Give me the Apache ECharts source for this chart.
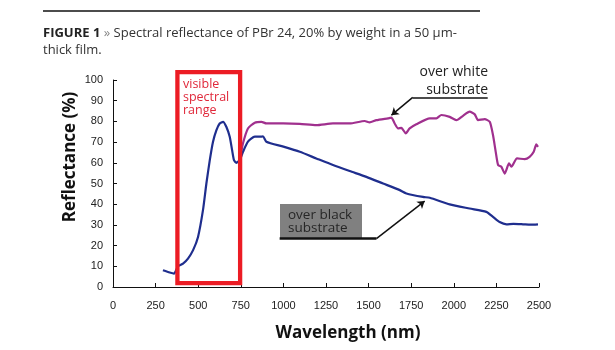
<!DOCTYPE html>
<html>
<head>
<meta charset="utf-8">
<script src="https://cdn.jsdelivr.net/npm/echarts@6/dist/echarts.min.js"></script>
<style>
  html, body { margin: 0; padding: 0; background: #fff; }
  #chart { width: 615px; height: 350px; }
</style>
</head>
<body>
<div id="chart"></div>
<script>
// over black substrate (blue)
const blackX = [293, 333, 358, 382, 411, 440, 470, 499, 528, 548, 568, 587, 607, 626, 646, 665, 685, 699, 710, 724, 744, 763, 792, 832, 871, 880, 900, 1000, 1096, 1193, 1291, 1389, 1487, 1585, 1683, 1722, 1819, 1859, 1976, 2093, 2191, 2230, 2269, 2309, 2350, 2406, 2450, 2494];
const blackY = [8.1, 7.0, 6.5, 10, 11.3, 13.7, 17.8, 24.2, 37.1, 50, 61.3, 70.2, 75.8, 79, 79.8, 77.4, 72.6, 66.1, 61.3, 60, 61.3, 65.3, 70.2, 72.6, 72.6, 72.8, 70.2, 67.8, 65.3, 62.1, 58.9, 56, 53.2, 50, 46.8, 45.2, 43.5, 43.1, 39.9, 37.9, 36.3, 33.9, 31.4, 30.3, 30.5, 30.3, 30.1, 30.3];

// over white substrate (purple)
const whiteX = [744, 763, 792, 832, 871, 900, 998, 1096, 1193, 1291, 1389, 1477, 1506, 1546, 1614, 1634, 1653, 1673, 1692, 1718, 1741, 1780, 1859, 1898, 1927, 1976, 2015, 2054, 2093, 2123, 2142, 2181, 2211, 2230, 2246, 2260, 2279, 2299, 2324, 2338, 2371, 2416, 2445, 2469, 2484, 2494];
const whiteY = [61.3, 69.4, 76.6, 79.4, 79.8, 79, 79, 78.8, 78.2, 79, 79, 80.2, 79.5, 80.6, 81.5, 81.8, 79, 76.6, 76.9, 74.2, 76.6, 78.6, 81.5, 81.5, 83.1, 82.2, 80.6, 82.7, 84.7, 83.4, 80.6, 81.1, 79.8, 73.4, 65.3, 58.9, 58.1, 54.8, 59.7, 58.1, 62.1, 61.8, 62.9, 65.3, 68.9, 67.7];

const xTicks = { min: 0, max: 2500, interval: 250 };
const yTicks = { min: 0, max: 100, interval: 10 };

// visible spectral range box (nm, %)
const visibleRange = [378, 746];
const visibleBoxY = [1.9, 103.8];

const chart = echarts.init(document.getElementById("chart"), null, { renderer: "canvas" });

const pairs = (xs, ys) => xs.map((x, i) => [x, ys[i]]);

const axisCommon = {
  axisLine: { show: true, lineStyle: { color: "#111", width: 1 } },
  axisTick: { show: true, inside: true, length: 4, lineStyle: { color: "#111" } },
  splitLine: { show: false },
};

chart.setOption({
  animation: false,
  title: {
    left: 38,
    top: 20,
    text: "{b|FIGURE 1} {g|»} Spectral reflectance of PBr 24, 20% by weight in a 50 μm-\nthick film.",
    textStyle: {
      fontFamily: "Open Sans",
      fontSize: 13,
      fontWeight: 400,
      color: "#333",
      lineHeight: 17,
      rich: {
        b: { fontFamily: "Open Sans", fontSize: 13, fontWeight: 700, color: "#222", lineHeight: 17 },
        g: { fontFamily: "Open Sans", fontSize: 13, color: "#888", lineHeight: 17 },
      },
    },
  },
  grid: { left: 113, right: 76, top: 80, bottom: 63 },
  xAxis: {
    type: "value",
    ...xTicks,
    ...axisCommon,
    axisLabel: { color: "#222", fontFamily: "Liberation Sans", fontSize: 11, margin: 13, formatter: (v) => String(v) },
  },
  yAxis: {
    type: "value",
    ...yTicks,
    ...axisCommon,
    axisLabel: { color: "#222", fontFamily: "Liberation Sans", fontSize: 11, margin: 10, formatter: (v) => String(v) },
  },
  series: [
    {
      name: "over white substrate",
      type: "line",
      data: pairs(whiteX, whiteY),
      showSymbol: false,
      smooth: 0.2,
      z: 3,
      lineStyle: { color: "#a0308e", width: 2.2 },
      markLine: {
        silent: true,
        symbol: ["none", "arrow"],
        symbolSize: 7,
        label: { show: false },
        lineStyle: { color: "#111", width: 1.5, type: "solid" },
        data: [
          [{ coord: [1759, 91.6] }, { coord: [2199, 91.6], symbol: "none" }],
          [{ coord: [1759, 91.6] }, { coord: [1634, 83] }],
          [{ coord: [978, 23.4], lineStyle: { width: 2.5 } }, { coord: [1546, 23.4], symbol: "none" }],
          [{ coord: [1546, 23.4] }, { coord: [1829, 41.5] }],
        ],
      },
    },
    {
      name: "over black substrate",
      type: "line",
      data: pairs(blackX, blackY),
      showSymbol: false,
      smooth: 0.2,
      z: 4,
      lineStyle: { color: "#1f2e8e", width: 2.2 },
    },
  ],
});

// red frame around the visible range, placed through the axis scales
const p0 = chart.convertToPixel({ gridIndex: 0 }, [visibleRange[0], visibleBoxY[1]]);
const p1 = chart.convertToPixel({ gridIndex: 0 }, [visibleRange[1], visibleBoxY[0]]);

chart.setOption({
  graphic: [
    { type: "line", shape: { x1: 43, y1: 11, x2: 480, y2: 11 }, style: { stroke: "#111", lineWidth: 1.5 } },
    {
      type: "rect", z: 50,
      shape: { x: p0[0], y: p0[1], width: p1[0] - p0[0], height: p1[1] - p0[1] },
      style: { fill: null, stroke: "#ec1c24", lineWidth: 4.3 },
    },
    {
      type: "text", x: 70, y: 157, rotation: Math.PI / 2,
      style: { text: "Reflectance (%)", font: "bold 17px 'Open Sans'", fill: "#111", align: "center", verticalAlign: "middle" },
    },
    {
      type: "text", x: 348, y: 333,
      style: { text: "Wavelength (nm)", font: "bold 17px 'Open Sans'", fill: "#111", align: "center", verticalAlign: "middle" },
    },
    {
      type: "text", x: 183, y: 78,
      style: { text: "visible\nspectral\nrange", font: "12.5px 'Open Sans'", lineHeight: 13, fill: "#e0283a", align: "left", verticalAlign: "top" },
    },
    {
      type: "text", x: 488, y: 63,
      style: { text: "over white\nsubstrate", font: "14px 'Open Sans'", lineHeight: 18, fill: "#222", align: "right", verticalAlign: "top" },
    },
    {
      type: "rect", z: 0, shape: { x: 280, y: 204, width: 82, height: 35 }, style: { fill: "#808080" },
    },
    {
      type: "text", x: 288, y: 209, z: 1,
      style: { text: "over black\nsubstrate", font: "13.5px 'Open Sans'", lineHeight: 13, fill: "#262626", align: "left", verticalAlign: "top" },
    },
  ],
});
</script>
</body>
</html>
